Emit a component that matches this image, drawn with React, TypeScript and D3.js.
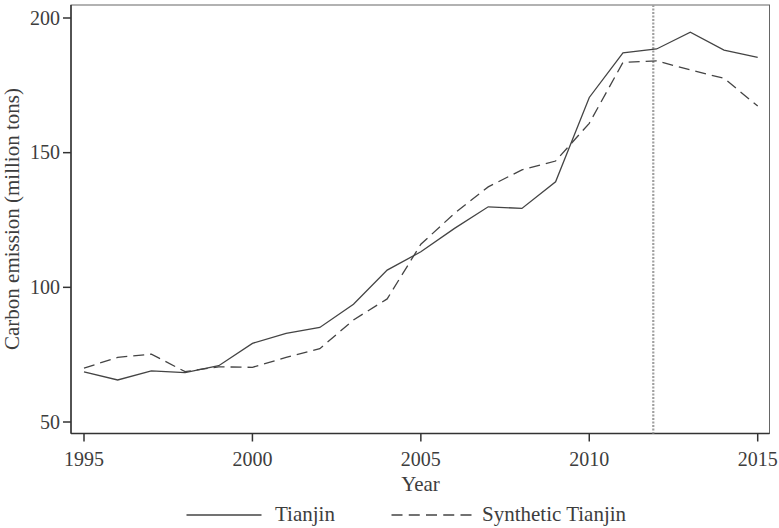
import React from 'react';
import * as d3 from 'd3';

// years on the x axis
const years = [1995, 1996, 1997, 1998, 1999, 2000, 2001, 2002, 2003, 2004, 2005,
  2006, 2007, 2008, 2009, 2010, 2011, 2012, 2013, 2014, 2015];

// actual Tianjin emissions (million tons)
const tianjin = [68.6, 65.6, 69.0, 68.3, 70.9, 79.2, 82.9, 85.1, 93.7, 106.4, 113.2,
  121.9, 129.9, 129.3, 139.2, 170.5, 187.1, 188.5, 194.7, 188.1, 185.4];

// synthetic control
const synthetic = [70.0, 74.0, 75.2, 68.7, 70.5, 70.3, 74.0, 77.2, 87.9, 95.7, 116.0,
  127.5, 137.3, 143.6, 146.9, 160.9, 183.5, 184.1, 180.7, 177.6, 167.3];

const xTicks = [1995, 2000, 2005, 2010, 2015];
const yTicks = [50, 100, 150, 200];
const treatmentYear = 2011.9;

const W = 779;
const H = 528;
const frame = { left: 71, right: 769.5, top: 5, bottom: 433.5 };
const font = 'Liberation Serif, Times New Roman, serif';
const ink = '#3d3d3d';

export default function App() {
  const x = d3.scaleLinear().domain([1995, 2015]).range([84, 757.7]);
  const y = d3.scaleLinear().domain([50, 200]).range([422, 18]);

  const line = d3.line<number>()
    .x((_, i) => x(years[i]))
    .y(d => y(d));

  return (
    <svg width={W} height={H} style={{ position: 'absolute', left: 0, top: 0 }}
      fontFamily={font}>
      <rect x={0} y={0} width={W} height={H} fill="#fff" />
      {/* frame */}
      <rect x={frame.left} y={frame.top} width={frame.right - frame.left}
        height={frame.bottom - frame.top} fill="none" stroke="#666" strokeWidth={1} />
      <line x1={frame.left} x2={frame.left} y1={frame.top} y2={frame.bottom}
        stroke="#333" strokeWidth={1.5} />
      <line x1={frame.left} x2={frame.right} y1={frame.bottom} y2={frame.bottom}
        stroke="#333" strokeWidth={1.5} />

      {/* treatment line */}
      <line x1={x(treatmentYear)} x2={x(treatmentYear)} y1={frame.top} y2={frame.bottom}
        stroke="#a0a0a0" strokeWidth={2.2} strokeDasharray="2,1.5" />

      {/* series */}
      <path d={line(tianjin) || ''} fill="none" stroke="#444" strokeWidth={1.3} />
      <path d={line(synthetic) || ''} fill="none" stroke="#444" strokeWidth={1.3}
        strokeDasharray="11,6" />

      {/* y axis */}
      {yTicks.map(t => (
        <g key={t}>
          <line x1={frame.left - 8} x2={frame.left} y1={y(t)} y2={y(t)} stroke="#333" strokeWidth={1.5} />
          <text x={frame.left - 11} y={y(t)} dy="0.34em" textAnchor="end" fontSize={20} fill={ink}>{t}</text>
        </g>
      ))}
      <text transform={`translate(19,219) rotate(-90)`} textAnchor="middle" fontSize={21} fill={ink}>
        Carbon emission (million tons)
      </text>

      {/* x axis */}
      {xTicks.map(t => (
        <g key={t}>
          <line x1={x(t)} x2={x(t)} y1={frame.bottom} y2={frame.bottom + 8} stroke="#333" strokeWidth={1.5} />
          <text x={x(t)} y={466} textAnchor="middle" fontSize={20} fill={ink}>{t}</text>
        </g>
      ))}
      <text x={420.5} y={491} textAnchor="middle" fontSize={21} fill={ink}>Year</text>

      {/* legend */}
      <line x1={186.5} x2={261.5} y1={515} y2={515} stroke="#444" strokeWidth={1.3} />
      <text x={275} y={521} fontSize={21} fill={ink}>Tianjin</text>
      <line x1={391.5} x2={471.5} y1={515} y2={515} stroke="#444" strokeWidth={1.3}
        strokeDasharray="11,6.25" />
      <text x={482} y={521} fontSize={21} fill={ink}>Synthetic Tianjin</text>
    </svg>
  );
}
